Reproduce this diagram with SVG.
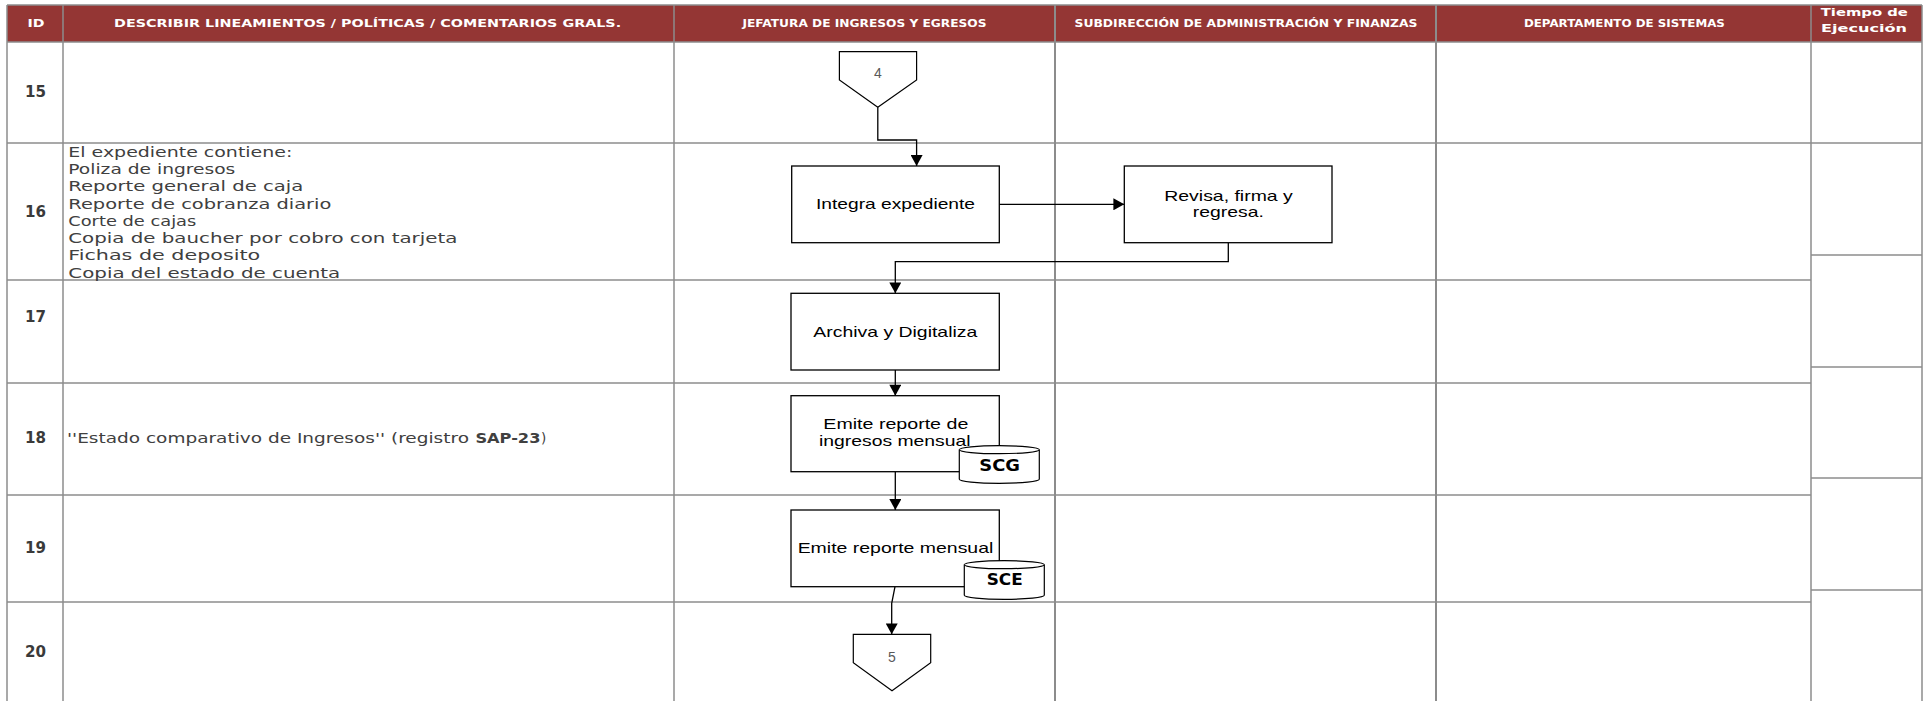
<svg xmlns="http://www.w3.org/2000/svg" width="1929" height="701" viewBox="0 0 1929 701">
<style>
.hdr{font-family:"DejaVu Sans","Liberation Sans",sans-serif;font-weight:bold;font-size:11px;fill:#ffffff;text-anchor:middle}
.grid{stroke:#8c8c8c;stroke-width:1.5;fill:none}
.rid{font-family:"DejaVu Sans","Liberation Sans",sans-serif;font-weight:bold;font-size:15.5px;fill:#3a3a3a;text-anchor:middle}
.desc{font-family:"DejaVu Sans","Liberation Sans",sans-serif;font-size:13.5px;fill:#404040}
.box{fill:#ffffff;stroke:#000000;stroke-width:1.3}
.btxt{font-family:"Liberation Sans",Arial,sans-serif;font-size:15px;fill:#000000;text-anchor:middle}
.off{fill:#ffffff;stroke:#000000;stroke-width:1.2}
.otxt{font-family:"Liberation Sans",Arial,sans-serif;font-size:14px;fill:#595959;text-anchor:middle}
.db{fill:#ffffff;stroke:#000000;stroke-width:1.2}
.dbt{font-family:"DejaVu Sans","Liberation Sans",sans-serif;font-weight:bold;font-size:15px;fill:#000000;text-anchor:middle}
.conn{fill:none;stroke:#000000;stroke-width:1.3}
</style>
<defs>
<marker id="arr" markerUnits="userSpaceOnUse" markerWidth="12" markerHeight="12" viewBox="0 0 10 11" refX="10" refY="5.5" orient="auto">
<path d="M0,0 L10,5.5 L0,11 Z" fill="#000000"/>
</marker>
</defs>
<rect x="0" y="0" width="1929" height="701" fill="#ffffff"/>
<g id="table">
<rect x="7" y="5" width="1915" height="37" fill="#943634"/>
<g class="grid">
<line x1="7" y1="5" x2="1922" y2="5"/>
<line x1="7" y1="42" x2="1922" y2="42"/>
<line x1="7" y1="143" x2="1922" y2="143"/>
<line x1="7" y1="280" x2="1811" y2="280"/>
<line x1="7" y1="383" x2="1811" y2="383"/>
<line x1="7" y1="495" x2="1811" y2="495"/>
<line x1="7" y1="602" x2="1811" y2="602"/>
<line x1="1811" y1="255" x2="1922" y2="255"/>
<line x1="1811" y1="367" x2="1922" y2="367"/>
<line x1="1811" y1="478" x2="1922" y2="478"/>
<line x1="1811" y1="590" x2="1922" y2="590"/>
<line x1="7" y1="5" x2="7" y2="701"/>
<line x1="63" y1="5" x2="63" y2="701"/>
<line x1="674" y1="5" x2="674" y2="701"/>
<line x1="1055" y1="5" x2="1055" y2="701" stroke-width="2"/>
<line x1="1436" y1="5" x2="1436" y2="701" stroke-width="2"/>
<line x1="1811" y1="5" x2="1811" y2="701"/>
<line x1="1922" y1="5" x2="1922" y2="701"/>
</g>
<text class="hdr" x="36" y="26.8" textLength="17" lengthAdjust="spacingAndGlyphs">ID</text>
<text class="hdr" x="367.6" y="26.8" textLength="507" lengthAdjust="spacingAndGlyphs">DESCRIBIR LINEAMIENTOS / POLÍTICAS / COMENTARIOS GRALS.</text>
<text class="hdr" x="864.5" y="26.8" textLength="244" lengthAdjust="spacingAndGlyphs">JEFATURA DE INGRESOS Y EGRESOS</text>
<text class="hdr" x="1246" y="26.8" textLength="343" lengthAdjust="spacingAndGlyphs">SUBDIRECCIÓN DE ADMINISTRACIÓN Y FINANZAS</text>
<text class="hdr" x="1624.4" y="26.8" textLength="201" lengthAdjust="spacingAndGlyphs">DEPARTAMENTO DE SISTEMAS</text>
<text class="hdr" x="1864.3" y="15.7" font-size="12" textLength="87" lengthAdjust="spacingAndGlyphs">Tiempo de</text>
<text class="hdr" x="1864" y="31.5" font-size="12" textLength="86" lengthAdjust="spacingAndGlyphs">Ejecución</text>
<text class="rid" x="35.5" y="97.4" textLength="21" lengthAdjust="spacingAndGlyphs">15</text>
<text class="rid" x="35.5" y="217.2" textLength="21" lengthAdjust="spacingAndGlyphs">16</text>
<text class="rid" x="35.5" y="321.9" textLength="21" lengthAdjust="spacingAndGlyphs">17</text>
<text class="rid" x="35.5" y="443.3" textLength="21" lengthAdjust="spacingAndGlyphs">18</text>
<text class="rid" x="35.5" y="553.3" textLength="21" lengthAdjust="spacingAndGlyphs">19</text>
<text class="rid" x="35.5" y="657.3" textLength="21" lengthAdjust="spacingAndGlyphs">20</text>
<text class="desc" x="68.3" y="156.7" textLength="224" lengthAdjust="spacingAndGlyphs">El expediente contiene:</text>
<text class="desc" x="68.3" y="174" textLength="167" lengthAdjust="spacingAndGlyphs">Poliza de ingresos</text>
<text class="desc" x="68.3" y="191.2" textLength="235" lengthAdjust="spacingAndGlyphs">Reporte general de caja</text>
<text class="desc" x="68.3" y="208.5" textLength="263" lengthAdjust="spacingAndGlyphs">Reporte de cobranza diario</text>
<text class="desc" x="68.3" y="225.8" textLength="128" lengthAdjust="spacingAndGlyphs">Corte de cajas</text>
<text class="desc" x="68.3" y="243" textLength="389" lengthAdjust="spacingAndGlyphs">Copia de baucher por cobro con tarjeta</text>
<text class="desc" x="68.3" y="260.3" textLength="192" lengthAdjust="spacingAndGlyphs">Fichas de deposito</text>
<text class="desc" x="68.3" y="277.5" textLength="272" lengthAdjust="spacingAndGlyphs">Copia del estado de cuenta</text>
<text class="desc" x="67" y="443.3" font-size="14.5" textLength="402" lengthAdjust="spacingAndGlyphs">''Estado comparativo de Ingresos'' (registro</text>
<text class="desc" x="475.4" y="443.3" font-size="14.5" font-weight="bold" textLength="65" lengthAdjust="spacingAndGlyphs">SAP-23</text>
<text class="desc" x="541" y="443.3" font-size="14.5">)</text>
</g>
<g id="connectors">
<path class="conn" d="M877.8,107.3 V140 H916.6 V166" marker-end="url(#arr)"/>
<path class="conn" d="M999.3,204.3 H1124.3" marker-end="url(#arr)"/>
<path class="conn" d="M1228.3,242.7 V261.7 H895.3 V293.3" marker-end="url(#arr)"/>
<path class="conn" d="M895.3,370 V395.7" marker-end="url(#arr)"/>
<path class="conn" d="M895.3,471.7 V510" marker-end="url(#arr)"/>
<path class="conn" d="M895,586.7 L891.7,603.3 V634.3" marker-end="url(#arr)"/>
</g>
<g id="node-conn4">
<path class="off" d="M839.4,51.7 H916.6 V80 L877.8,107.3 L839.4,80 Z"/>
<text class="otxt" x="877.8" y="77.7">4</text>
</g>
<g id="node-integra">
<rect class="box" x="791.7" y="166" width="207.6" height="76.7"/>
<text class="btxt" x="895.5" y="209.3" textLength="159" lengthAdjust="spacingAndGlyphs">Integra expediente</text>
</g>
<g id="node-revisa">
<rect class="box" x="1124.3" y="166" width="207.7" height="76.7"/>
<text class="btxt" x="1228.5" y="200.7" textLength="128.5" lengthAdjust="spacingAndGlyphs">Revisa, firma y</text>
<text class="btxt" x="1228.3" y="216.7" textLength="71" lengthAdjust="spacingAndGlyphs">regresa.</text>
</g>
<g id="node-archiva">
<rect class="box" x="791" y="293.3" width="208.3" height="76.7"/>
<text class="btxt" x="895.3" y="336.7" textLength="164" lengthAdjust="spacingAndGlyphs">Archiva y Digitaliza</text>
</g>
<g id="node-emite-ingresos">
<rect class="box" x="791" y="395.7" width="208.3" height="76"/>
<text class="btxt" x="895.8" y="429" textLength="145" lengthAdjust="spacingAndGlyphs">Emite reporte de</text>
<text class="btxt" x="894.8" y="446.3" textLength="151.7" lengthAdjust="spacingAndGlyphs">ingresos mensual</text>
</g>
<g id="node-scg">
<path class="db" d="M959.3,449.7 A40,4 0 0 1 1039.3,449.7 V479.3 A40,4 0 0 1 959.3,479.3 Z"/>
<path class="db" fill="none" d="M959.3,449.7 A40,4 0 0 0 1039.3,449.7"/>
<text class="dbt" x="999.7" y="470.7" textLength="40.7" lengthAdjust="spacingAndGlyphs">SCG</text>
</g>
<g id="node-emite-mensual">
<rect class="box" x="791" y="510" width="208.3" height="76.7"/>
<text class="btxt" x="895.5" y="553.3" textLength="195.7" lengthAdjust="spacingAndGlyphs">Emite reporte mensual</text>
</g>
<g id="node-sce">
<path class="db" d="M964.3,564.7 A40,4 0 0 1 1044.3,564.7 V595.3 A40,4 0 0 1 964.3,595.3 Z"/>
<path class="db" fill="none" d="M964.3,564.7 A40,4 0 0 0 1044.3,564.7"/>
<text class="dbt" x="1004.7" y="585" textLength="36" lengthAdjust="spacingAndGlyphs">SCE</text>
</g>
<g id="node-conn5">
<path class="off" d="M853.3,634.3 H930.7 V662.7 L892,690.7 L853.3,662.7 Z"/>
<text class="otxt" x="892" y="661.7">5</text>
</g>
</svg>
